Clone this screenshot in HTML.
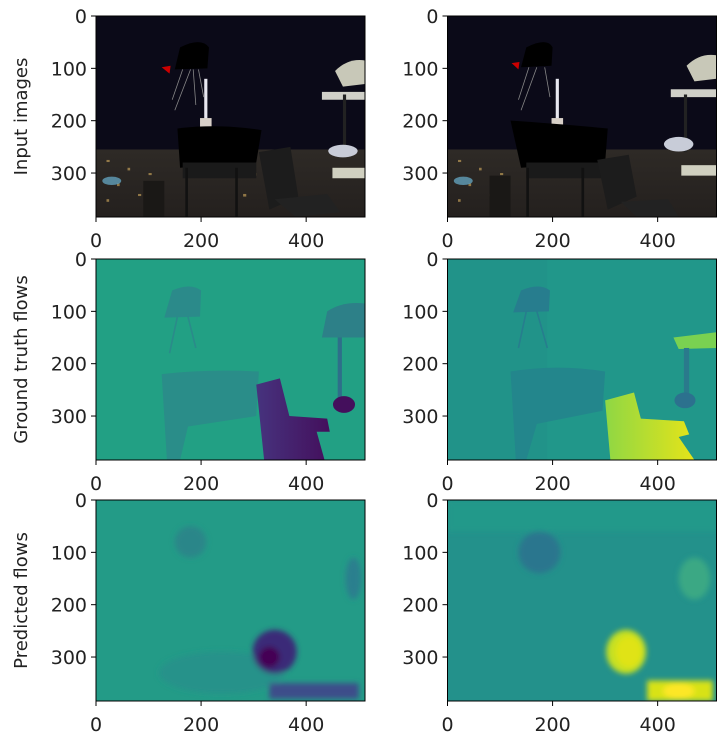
<!DOCTYPE html>
<html><head><meta charset="utf-8"><style>
body{margin:0;background:#fff;}
svg{display:block;font-family:"DejaVu Sans","Liberation Sans",sans-serif;}
</style></head><body>
<svg id="fig" width="725" height="741" viewBox="0 0 725 741">
<defs>
<filter id="bl" x="-20%" y="-20%" width="140%" height="140%"><feGaussianBlur stdDeviation="5"/></filter>
<linearGradient id="gy" x1="0" x2="1"><stop offset="0" stop-color="#8fd744"/><stop offset="1" stop-color="#e5e419"/></linearGradient>
<linearGradient id="gp" x1="0" x2="1"><stop offset="0" stop-color="#46337e"/><stop offset="1" stop-color="#440f5c"/></linearGradient>
<linearGradient id="city" x1="0" y1="0" x2="0" y2="1"><stop offset="0" stop-color="#2e2a26"/><stop offset="1" stop-color="#24201e"/></linearGradient>
<clipPath id="cp"><rect x="0" y="0" width="512" height="384"/></clipPath>
</defs>

<g transform="translate(96,16) scale(0.5254,0.5234)" clip-path="url(#cp)">
 <rect width="512" height="384" fill="#0b0a18"/>
 <rect y="255" width="512" height="129" fill="url(#city)"/>
 <g fill="#d8b060" opacity="0.6"><rect x="20" y="275" width="6" height="4"/><rect x="60" y="290" width="5" height="5"/><rect x="100" y="300" width="6" height="4"/><rect x="40" y="320" width="5" height="5"/><rect x="80" y="340" width="6" height="4"/><rect x="300" y="300" width="5" height="5"/><rect x="280" y="340" width="6" height="5"/><rect x="20" y="350" width="5" height="5"/></g>
 <ellipse cx="30" cy="315" rx="18" ry="8" fill="#6ab0d0" opacity="0.7"/>
 <rect x="90" y="315" width="40" height="69" fill="#1a1816"/>
 <rect x="206" y="120" width="6" height="85" fill="#e8e8f0"/>
 <rect x="198" y="195" width="22" height="30" fill="#d8d0c8"/>
 <path d="M160,60 Q200,40 215,60 L212,100 L150,102 Z" fill="#000"/>
 <polygon points="125,98 142,95 140,110" fill="#c00"/>
 <g stroke="#888" stroke-width="1.5" fill="none"><path d="M165,102 L145,160 M180,102 L150,180 M195,102 L205,155 M185,102 L190,170"/></g>
 <path d="M155,215 Q230,205 315,218 L305,280 L160,290 Z" fill="#000"/>
 <rect x="165" y="280" width="140" height="30" fill="#1a1a1a"/>
 <rect x="170" y="290" width="5" height="94" fill="#111"/><rect x="265" y="290" width="5" height="94" fill="#111"/>
 <path d="M310,260 L370,250 L385,345 L330,370 Z" fill="#1c1c1c"/>
 <path d="M340,350 L440,340 L465,375 L380,384 Z" fill="#222"/>
 <path d="M455,105 Q480,80 512,85 L512,130 L470,135 Z" fill="#c8c8b8"/>
 <rect x="430" y="145" width="82" height="15" fill="#d0d0c8"/>
 <rect x="470" y="150" width="6" height="110" fill="#222"/>
 <ellipse cx="470" cy="258" rx="28" ry="12" fill="#c8ccd8"/>
 <rect x="450" y="290" width="62" height="20" fill="#d0d0c0"/>
</g>
<g transform="translate(447.5,16) scale(0.5254,0.5234)" clip-path="url(#cp)">
 <rect width="512" height="384" fill="#0b0a18"/>
 <rect y="255" width="512" height="129" fill="url(#city)"/>
 <g fill="#d8b060" opacity="0.6"><rect x="20" y="275" width="6" height="4"/><rect x="60" y="290" width="5" height="5"/><rect x="100" y="300" width="6" height="4"/><rect x="40" y="320" width="5" height="5"/><rect x="80" y="340" width="6" height="4"/><rect x="300" y="300" width="5" height="5"/><rect x="20" y="350" width="5" height="5"/></g>
 <ellipse cx="30" cy="315" rx="18" ry="8" fill="#6ab0d0" opacity="0.7"/>
 <rect x="80" y="305" width="40" height="79" fill="#1a1816"/>
 <rect x="206" y="120" width="6" height="85" fill="#e8e8f0"/>
 <rect x="198" y="195" width="22" height="30" fill="#d8d0c8"/>
 <path d="M150,60 Q190,40 200,60 L198,95 L140,98 Z" fill="#000"/>
 <polygon points="122,90 137,88 135,102" fill="#c00"/>
 <g stroke="#888" stroke-width="1.5" fill="none"><path d="M155,98 L135,160 M170,98 L140,180 M185,98 L195,155"/></g>
 <path d="M120,200 Q200,205 305,215 L300,280 L140,290 Z" fill="#000"/>
 <rect x="150" y="280" width="150" height="30" fill="#1a1a1a"/>
 <rect x="150" y="290" width="5" height="94" fill="#111"/><rect x="255" y="290" width="5" height="94" fill="#111"/>
 <path d="M285,275 L345,265 L360,345 L305,370 Z" fill="#1c1c1c"/>
 <path d="M330,355 L420,350 L440,384 L360,384 Z" fill="#222"/>
 <path d="M455,95 Q480,70 512,75 L512,120 L470,125 Z" fill="#c8c8b8"/>
 <rect x="425" y="140" width="87" height="15" fill="#d0d0c8"/>
 <rect x="450" y="150" width="6" height="110" fill="#222"/>
 <ellipse cx="440" cy="245" rx="28" ry="14" fill="#c8ccd8"/>
 <rect x="445" y="285" width="67" height="20" fill="#d0d0c0"/>
</g>

<g transform="translate(96,259) scale(0.5254,0.5234)" clip-path="url(#cp)">
 <rect width="512" height="384" fill="#22a084"/>
 <path d="M145,60 Q180,45 200,60 L198,110 L130,112 Z" fill="#2b8a8a"/>
 <g stroke="#2b8a8a" stroke-width="3"><path d="M155,110 L140,180 M175,110 L190,170"/></g>
 <path d="M125,220 Q210,210 310,215 L305,300 L175,320 L160,384 L135,384 Z" fill="#2a8d89"/>
 <path d="M305,240 L350,228 L368,300 L440,305 L445,330 L420,330 L435,384 L320,384 Z" fill="url(#gp)"/>
 <path d="M440,100 Q470,80 512,85 L512,150 L430,150 Z" fill="#2d8088"/>
 <rect x="460" y="150" width="8" height="120" fill="#2e6f8a"/>
 <ellipse cx="472" cy="278" rx="21" ry="16" fill="#440f5c"/>
</g>
<g transform="translate(447.5,259) scale(0.5254,0.5234)" clip-path="url(#cp)">
 <rect width="512" height="384" fill="#21978a"/>
 <rect x="0" y="0" width="190" height="384" fill="#219188" opacity="0.6"/>
 <path d="M140,60 Q175,45 195,60 L193,100 L125,102 Z" fill="#277d8e"/>
 <g stroke="#277d8e" stroke-width="3"><path d="M150,100 L135,170 M170,100 L190,170"/></g>
 <path d="M120,215 Q210,200 300,215 L295,290 L170,315 L150,384 L130,384 Z" fill="#23868c"/>
 <path d="M300,270 L355,255 L368,305 L450,310 L460,335 L440,340 L470,384 L310,384 Z" fill="url(#gy)"/>
 <path d="M430,150 L512,140 L512,170 L440,172 Z" fill="#7ad151"/>
 <rect x="450" y="170" width="10" height="100" fill="#2a7a8c"/>
 <ellipse cx="452" cy="270" rx="20" ry="15" fill="#2c718e"/>
</g>

<g transform="translate(96,500) scale(0.5254,0.5234)" clip-path="url(#cp)">
 <rect width="512" height="384" fill="#239b87"/>
 <g filter="url(#bl)">
  <ellipse cx="180" cy="80" rx="30" ry="30" fill="#2a8689"/>
  <ellipse cx="240" cy="330" rx="120" ry="40" fill="#25928a"/>
  <ellipse cx="340" cy="290" rx="42" ry="42" fill="#3b2c78"/>
  <ellipse cx="330" cy="300" rx="20" ry="20" fill="#440154"/>
  <rect x="330" y="350" width="170" height="30" fill="#3c4d8a"/>
  <ellipse cx="490" cy="150" rx="15" ry="40" fill="#2a7f8e"/>
 </g>
</g>
<g transform="translate(447.5,500) scale(0.5254,0.5234)" clip-path="url(#cp)">
 <rect width="512" height="384" fill="#23918b"/>
 <g filter="url(#bl)">
  <rect x="0" y="0" width="512" height="60" fill="#21998a"/>
  <ellipse cx="175" cy="100" rx="40" ry="40" fill="#2a768e"/>
  <ellipse cx="470" cy="150" rx="30" ry="40" fill="#3ba884"/>
  <ellipse cx="340" cy="290" rx="38" ry="42" fill="#c6e021"/>
  <ellipse cx="345" cy="290" rx="25" ry="30" fill="#e0e318"/>
  <rect x="380" y="345" width="125" height="39" fill="#d8e219"/>
  <ellipse cx="440" cy="365" rx="30" ry="15" fill="#fde725"/>
 </g>
</g>

<g id="axes"></g>
</svg>
<script>
const xTicks=[0,200,400];
const yTicks=[0,100,200,300];
const rowLabels=["Input images","Ground truth flows","Predicted flows"];
const colX=[96,447.5];
const rowY=[16,259,500];
const W=269,H=201,XMAX=512,YMAX=384;
const ns="http://www.w3.org/2000/svg";
const ax=document.getElementById('axes');
function mk(t,a){const e=document.createElementNS(ns,t);for(const k in a)e.setAttribute(k,a[k]);return e;}
rowY.forEach((y0,r)=>{
 colX.forEach((x0,c)=>{
  const sx=v=>x0+v/XMAX*W, sy=v=>y0+v/YMAX*H;
  const f=mk('rect',{x:x0,y:y0,width:W,height:H,fill:'none',stroke:'#000','stroke-width':1});
  
  
  ax.appendChild(f);
  xTicks.forEach(t=>{
   const l=mk('line',{x1:sx(t),x2:sx(t),y1:y0+H,y2:y0+H+5,stroke:'#000'});
   
   
   ax.appendChild(l);
   const tx=mk('text',{x:sx(t),y:y0+H+30,'text-anchor':'middle','font-size':19,fill:'#222'});
   tx.textContent=t;
   
   
   ax.appendChild(tx);
  });
  yTicks.forEach(t=>{
   const l=mk('line',{x1:x0-5,x2:x0,y1:sy(t),y2:sy(t),stroke:'#000'});
   
   
   ax.appendChild(l);
   const tx=mk('text',{x:x0-9,y:sy(t)+7,'text-anchor':'end','font-size':19,fill:'#222'});
   tx.textContent=t;
   
   
   ax.appendChild(tx);
  });
 });
 const lb=mk('text',{x:0,y:0,'text-anchor':'middle','font-size':18,fill:'#222',transform:`translate(27,${y0+H/2}) rotate(-90)`});
 lb.textContent=rowLabels[r];
 
 
 ax.appendChild(lb);
});
</script>
</body></html>
